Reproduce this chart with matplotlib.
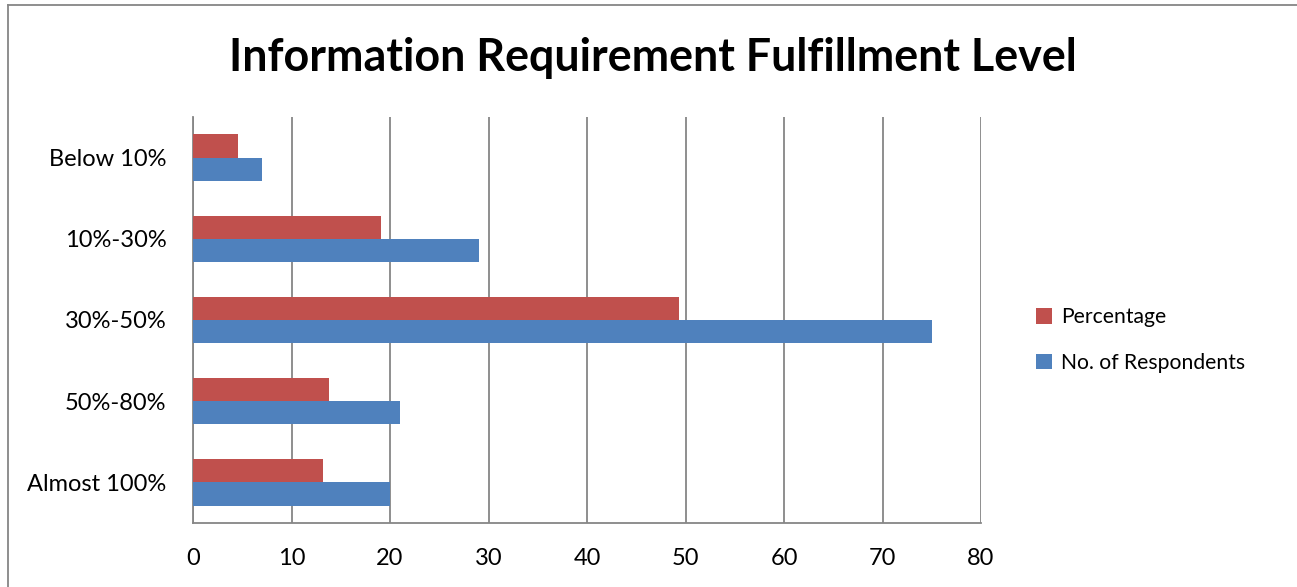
import matplotlib
matplotlib.use("Agg")
import matplotlib.pyplot as plt
from matplotlib.lines import Line2D
import numpy as np

plt.rcParams['font.family'] = ['Lato', 'DejaVu Sans']

categories = ["Below 10%", "10%-30%", "30%-50%", "50%-80%", "Almost 100%"]
respondents = [7, 29, 75, 21, 20]
percentage = [4.6, 19.1, 49.3, 13.8, 13.2]
x_ticks = [0, 10, 20, 30, 40, 50, 60, 70, 80]

RED = "#C0504D"
BLUE = "#4F81BD"
GRID = "#868686"

W, H = 1297, 587
fig = plt.figure(figsize=(W / 100, H / 100), dpi=100)
ax = fig.add_axes([193 / W, 1 - 523 / H, (981 - 193) / W, (523 - 117) / H])

y = np.arange(len(categories))
h = 0.285
ax.barh(y - h / 2, percentage, height=h, color=RED, label="Percentage", zorder=3)
ax.barh(y + h / 2, respondents, height=h, color=BLUE, label="No. of Respondents", zorder=3)

ax.set_xlim(0, 80)
ax.set_ylim(len(categories) - 0.5, -0.5)
ax.set_xticks(x_ticks)
ax.set_xticklabels([str(t) for t in x_ticks], fontsize=17)
ax.set_yticks(y)
ax.set_yticklabels(categories, fontsize=17)
ax.tick_params(axis='x', length=0, pad=18)
ax.tick_params(axis='y', length=0, pad=19)
ax.xaxis.grid(True, color=GRID, linewidth=1.3, zorder=0)
ax.set_axisbelow(True)
for side in ("top", "right"):
    ax.spines[side].set_visible(False)
for side in ("left", "bottom"):
    ax.spines[side].set_color(GRID)
    ax.spines[side].set_linewidth(1.3)

fig.text(653 / W, 1 - 58 / H, "Information Requirement Fulfillment Level",
         ha="center", va="center", fontsize=32.3, fontweight="bold")

handles, labels = ax.get_legend_handles_labels()
fig.legend(handles, labels, loc="center left", bbox_to_anchor=(1017 / W, 1 - 340 / H),
           frameon=False, fontsize=15.2, handlelength=0.75, handleheight=0.75,
           handletextpad=0.45, labelspacing=1.2)

# Outer chart frame
fig.add_artist(Line2D([8 / W, 8 / W], [0, 1 - 5 / H], transform=fig.transFigure,
                      color=GRID, linewidth=1.3))
fig.add_artist(Line2D([8 / W, 1], [1 - 5 / H, 1 - 5 / H], transform=fig.transFigure,
                      color=GRID, linewidth=1.3))

fig.savefig("out.png", dpi=100, facecolor="white")
